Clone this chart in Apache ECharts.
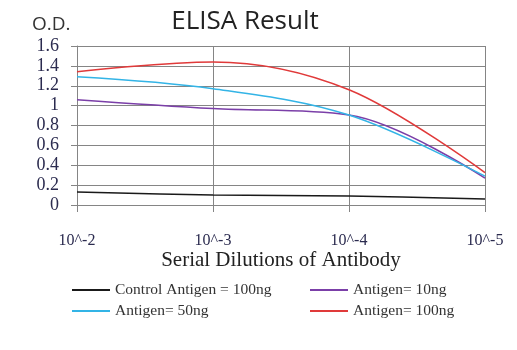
<!DOCTYPE html>
<html>
<head>
<meta charset="utf-8">
<script src="https://cdn.jsdelivr.net/npm/echarts@6/dist/echarts.min.js"></script>
<style>
  html, body { margin: 0; padding: 0; background: #fff; }
  #chart { width: 517px; height: 350px; }
</style>
</head>
<body>
<div id="chart"></div>
<script>
// Dilution steps along the x axis
const dilutions = ['10^-2', '10^-3', '10^-4', '10^-5'];

// Optical density readings per antigen amount
const controlAntigen100 = [0.13, 0.10, 0.09, 0.06];
const antigen10 = [1.06, 0.97, 0.905, 0.27];
const antigen50 = [1.29, 1.17, 0.905, 0.29];
const antigen100 = [1.34, 1.44, 1.16, 0.325];

const seriesNames = ['Control Antigen = 100ng', 'Antigen= 10ng', 'Antigen= 50ng', 'Antigen= 100ng'];
const seriesColors = ['#1a1a1a', '#7b3fa8', '#33b4e6', '#e03a3a'];
const seriesData = [controlAntigen100, antigen10, antigen50, antigen100];

const chart = echarts.init(document.getElementById('chart'));

const serif = '"Liberation Serif", "DejaVu Serif", serif';
const gridColor = '#858585';

const legendCommon = {
  orient: 'vertical',
  top: 282,
  padding: 0,
  itemWidth: 38,
  itemHeight: 2,
  itemGap: 5,
  icon: 'rect',
  textStyle: { fontFamily: serif, fontSize: 15.5, color: '#333', padding: [0, 0, 0, 0] }
};

chart.setOption({
  animation: false,
  backgroundColor: '#fff',
  title: [
    {
      text: 'ELISA Result',
      left: 240, top: 4, textAlign: 'center',
      textStyle: { fontFamily: '"Open Sans", sans-serif', fontSize: 26, fontWeight: 'normal', color: '#222' }
    },
    {
      text: 'O.D.',
      left: 27, top: 10,
      textStyle: { fontFamily: '"Open Sans", sans-serif', fontSize: 19, fontWeight: 'normal', color: '#333' }
    }
  ],
  legend: [
    Object.assign({ left: 72, data: [seriesNames[0], seriesNames[2]] }, legendCommon),
    Object.assign({ left: 310, data: [seriesNames[1], seriesNames[3]] }, legendCommon)
  ],
  grid: { left: 77, right: 32, top: 46, bottom: 145, containLabel: false },
  xAxis: {
    type: 'category',
    data: dilutions,
    boundaryGap: false,
    name: 'Serial Dilutions of Antibody',
    nameLocation: 'middle',
    nameGap: 43,
    nameTextStyle: { fontFamily: serif, fontSize: 21, color: '#222' },
    axisLine: { show: true, lineStyle: { color: gridColor, width: 1 } },
    axisTick: { show: true, length: 7, alignWithLabel: true, lineStyle: { color: gridColor } },
    axisLabel: { fontFamily: serif, fontSize: 16, color: '#2b2b4f', margin: 28 },
    splitLine: { show: true, lineStyle: { color: gridColor, width: 1 } }
  },
  yAxis: {
    type: 'value',
    min: 0, max: 1.6, interval: 0.2,
    axisLine: { show: true, lineStyle: { color: gridColor, width: 1 } },
    axisTick: { show: true, length: 6, lineStyle: { color: gridColor } },
    axisLabel: {
      fontFamily: serif, fontSize: 18, color: '#2b2b4f', margin: 18,
      formatter: v => String(Math.round(v * 10) / 10)
    },
    splitLine: { show: true, lineStyle: { color: gridColor, width: 1 } }
  },
  series: seriesData.map((d, i) => ({
    name: seriesNames[i],
    type: 'line',
    data: d,
    smooth: 0.35,
    symbol: 'none',
    lineStyle: { color: seriesColors[i], width: 1.5 },
    itemStyle: { color: seriesColors[i] }
  }))
});
</script>
</body>
</html>
